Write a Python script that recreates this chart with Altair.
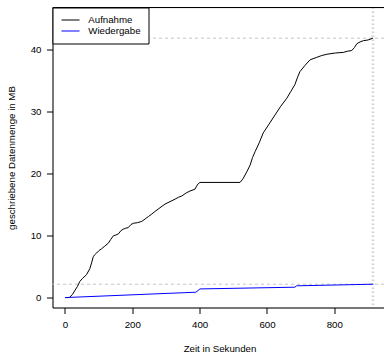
import altair as alt
import pandas as pd

# Recorded data volume over time (seconds -> MB)
aufnahme_t = [0, 13, 22, 30, 37, 44, 52, 64, 74, 79, 84, 88, 94, 101, 109, 118, 129, 136,
              144, 151, 159, 166, 173, 180, 188, 196, 203, 215, 228, 238, 248, 258, 267,
              282, 297, 312, 327, 337, 347, 360, 371, 386, 391, 396, 401, 520, 526, 530,
              540, 550, 557, 565, 577, 589, 606, 624, 641, 659, 671, 683, 691, 698, 713,
              728, 748, 763, 778, 803, 827, 840, 852, 860, 867, 877, 887, 900, 915]
aufnahme_mb = [0, 0, 0.5, 1.2, 1.8, 2.6, 3.1, 3.7, 4.7, 5.6, 6.6, 6.9, 7.2, 7.6, 7.9, 8.3,
               8.8, 9.4, 10.0, 10.1, 10.3, 10.8, 11.05, 11.2, 11.3, 11.8, 12.0, 12.1, 12.3,
               12.7, 13.1, 13.5, 13.9, 14.5, 15.1, 15.5, 15.9, 16.2, 16.4, 16.9, 17.2, 17.5,
               18.0, 18.4, 18.6, 18.6, 19.0, 19.3, 20.3, 21.4, 22.6, 23.6, 25.0, 26.6, 28.0,
               29.5, 30.9, 32.2, 33.3, 34.4, 35.6, 36.5, 37.5, 38.4, 38.8, 39.1, 39.3, 39.5,
               39.6, 39.8, 39.9, 40.4, 41.0, 41.3, 41.5, 41.6, 41.9]

wiedergabe_t = [0, 389, 401, 683, 688, 915]
wiedergabe_mb = [0, 0.87, 1.4, 1.68, 1.9, 2.16]

series_names = ["Aufnahme", "Wiedergabe"]
series_colors = ["black", "blue"]

x_ticks = [0, 200, 400, 600, 800]
y_ticks = [0, 10, 20, 30, 40]

FONT = "Liberation Sans"
FS = 9.7
W, H = 331.5, 300

df = pd.concat([
    pd.DataFrame({"t": aufnahme_t, "mb": aufnahme_mb, "serie": series_names[0], "o": 0}),
    pd.DataFrame({"t": wiedergabe_t, "mb": wiedergabe_mb, "serie": series_names[1], "o": 1}),
], ignore_index=True)

# final values of each series mark the dashed reference lines
h_refs = pd.DataFrame({"mb": [aufnahme_mb[-1], wiedergabe_mb[-1]]})
v_refs = pd.DataFrame({"t": [max(aufnahme_t[-1], wiedergabe_t[-1])]})

x_scale = alt.Scale(domain=[-37.1, 947.7], nice=False, zero=False)
y_scale = alt.Scale(domain=[-1.6, 46.85], nice=False, zero=False)

x_axis = alt.Axis(values=x_ticks, title="Zeit in Sekunden", grid=False,
                  domainColor="black", tickColor="black", tickSize=6, labelPadding=6,
                  labelColor="black", labelFont=FONT, labelFontSize=FS,
                  titleFont=FONT, titleFontSize=FS, titleFontWeight="normal",
                  titleColor="black", titleX=167, titleY=44.3,
                  titleBaseline="alphabetic")
y_axis = alt.Axis(values=y_ticks, title="geschriebene Datenmenge in MB", grid=False,
                  domainColor="black", tickColor="black", tickSize=6, labelPadding=5.5,
                  labelColor="black", labelFont=FONT, labelFontSize=FS,
                  titleFont=FONT, titleFontSize=FS, titleFontWeight="normal",
                  titleColor="black", titleX=-38.5, titleY=150, titleAngle=270,
                  titleAlign="center", titleBaseline="alphabetic")

hlines = alt.Chart(h_refs).mark_rule(color="#c4c4c4", strokeWidth=1, strokeDash=[3, 3]).encode(
    y=alt.Y("mb:Q", scale=y_scale, axis=y_axis))
vline = alt.Chart(v_refs).mark_rule(color="#d0d0d0", strokeWidth=2.5, strokeDash=[1.5, 2.5]).encode(
    x=alt.X("t:Q", scale=x_scale, axis=x_axis))

lines = alt.Chart(df).mark_line(strokeWidth=1, clip=True).encode(
    x=alt.X("t:Q", scale=x_scale, axis=x_axis),
    y=alt.Y("mb:Q", scale=y_scale, axis=y_axis),
    color=alt.Color("serie:N",
                    scale=alt.Scale(domain=series_names, range=series_colors),
                    legend=alt.Legend(title=None, orient="none", legendX=0, legendY=0,
                                      fillColor="white", strokeColor="black",
                                      padding=7, rowPadding=0, columnPadding=0,
                                      symbolType="M-1.8,0H1.8", symbolSize=100,
                                      symbolStrokeWidth=1, symbolOffset=5.5,
                                      labelOffset=12.3, labelFont=FONT,
                                      labelFontSize=FS, labelColor="black")),
    order="o:Q",
)

top_border = alt.Chart(pd.DataFrame({"k": [0]})).mark_rule(color="black", strokeWidth=1).encode(
    x=alt.value(0), x2=alt.value(W), y=alt.value(0))

chart = alt.layer(hlines, vline, lines, top_border).properties(
    width=W, height=H,
    autosize=alt.AutoSizeParams(type="none"),
    padding={"left": 52.5, "top": 7.5, "right": 0, "bottom": 46.5},
).configure_view(strokeWidth=0).configure(background="white")

chart.save("out.html", embed_options={"renderer": "svg", "actions": False})
